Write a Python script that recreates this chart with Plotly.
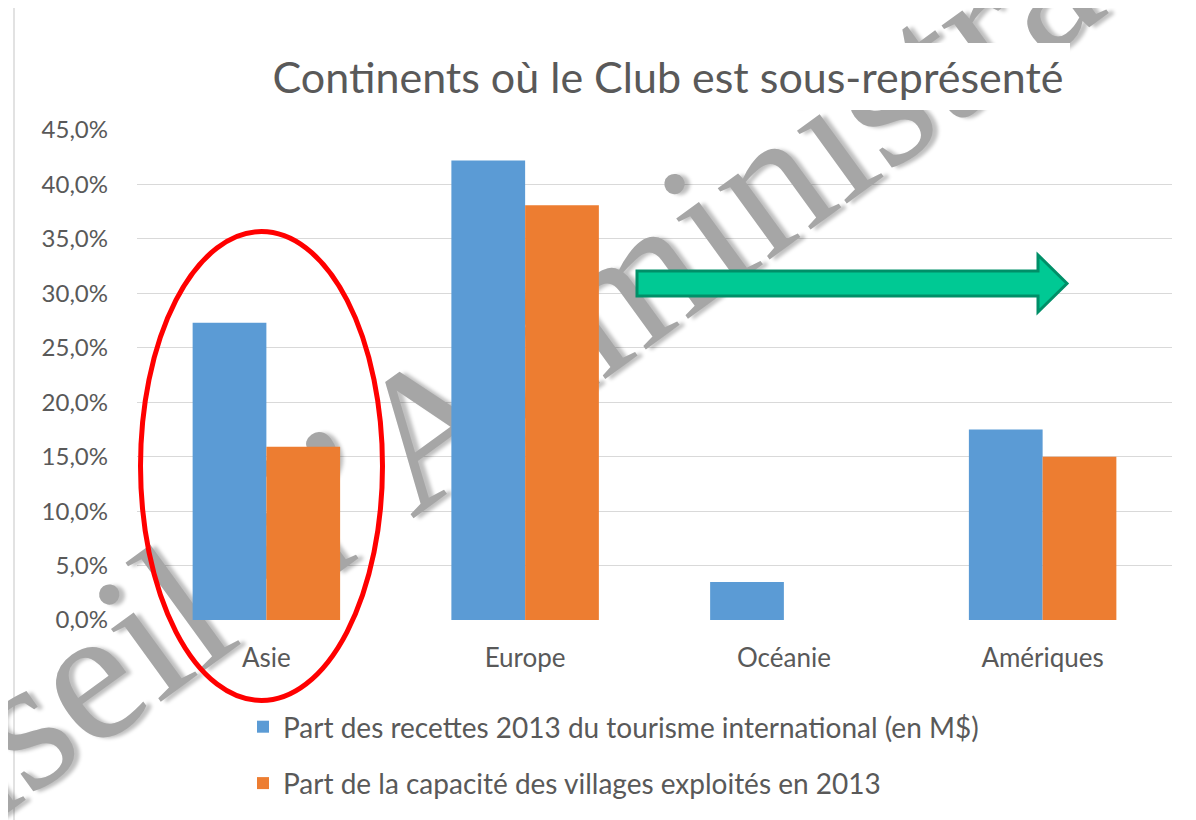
import plotly.graph_objects as go

# ---- data ----
categories = ["Asie", "Europe", "Océanie", "Amériques"]
recettes = [0.273, 0.422, 0.035, 0.175]
capacite = [0.159, 0.381, 0.0, 0.150]
series_names = [
    "Part des recettes 2013 du tourisme international (en M$)",
    "Part de la capacité des villages exploités en 2013",
]
title_text = "Continents où le Club est sous-représenté"
watermark_text = "Conseil d’Administration"

W, H = 1196, 820
OFF = 8  # page body margin
L, R, T, B = 137 - OFF, 32, 130 - OFF, 208
PX0, PY0 = 137, 620          # plot-area origin in page pixels
PW, PH = W - L - R, H - T - B


def px(x, y):
    """page pixel -> paper coordinates (for decorations only)"""
    return (x - PX0) / PW, (PY0 - y) / PH


BLUE = "#5B9BD5"
ORANGE = "#ED7D31"
GREY_TXT = "#595959"
FONT = "Lato"

fig = go.Figure()

# watermark (drawn first so the bars sit on top of it)
wm_font = dict(family="Liberation Serif", size=192, color="#A6A6A6",
               shadow="4px 4px 4px rgba(0,0,0,0.25)")
fig.add_trace(go.Bar(
    x=["Europe"], y=[0.0997], base=[0.19], width=0.2, offset=-0.108,
    marker=dict(color="rgba(0,0,0,0)", line=dict(width=0)),
    text=[watermark_text], textposition="inside", insidetextanchor="middle",
    textangle=-36, constraintext="none", cliponaxis=False,
    textfont=wm_font, insidetextfont=wm_font,
    showlegend=False, hoverinfo="skip",
))

bw = 0.285
fig.add_trace(go.Bar(
    x=categories, y=recettes, name=series_names[0], marker_color=BLUE,
    width=bw, offset=-bw, legendgroup="a", marker_line_width=0,
))
fig.add_trace(go.Bar(
    x=categories, y=capacite, name=series_names[1], marker_color=ORANGE,
    width=bw, offset=0, legendgroup="b", marker_line_width=0,
))

shapes = []
# outer chart border
x0, y0 = px(14, 6)
x1, y1 = px(1215, 840)
shapes.append(dict(type="rect", xref="paper", yref="paper", x0=x0, y0=y0, x1=x1, y1=y1,
                   line=dict(color="#D9D9D9", width=1.5), layer="below"))
# white title box
x0, y0 = px(262, 43)
x1, y1 = px(1070, 110)
shapes.append(dict(type="rect", xref="paper", yref="paper", x0=x0, y0=y0, x1=x1, y1=y1,
                   fillcolor="white", line=dict(width=0), layer="above"))
# red ellipse
x0, y0 = px(140.5, 231.5)
x1, y1 = px(382.5, 700.5)
shapes.append(dict(type="circle", xref="paper", yref="paper", x0=x0, y0=y0, x1=x1, y1=y1,
                   line=dict(color="#FF0000", width=5), layer="above"))
# green arrow
pts = [(637, 271), (1038, 271), (1038, 255), (1067, 283.5), (1038, 312), (1038, 296), (637, 296)]
path = "M " + " L ".join(f"{px(a, b)[0]:.5f},{px(a, b)[1]:.5f}" for a, b in pts) + " Z"
shapes.append(dict(type="path", xref="paper", yref="paper", path=path,
                   fillcolor="#00C994", line=dict(color="#008F68", width=3), layer="above"))

fig.update_layout(
    width=W, height=H,
    margin=dict(l=L, r=R, t=T, b=B, pad=0),
    paper_bgcolor="white", plot_bgcolor="white",
    barmode="overlay",
    separators=", ",
    font=dict(family=FONT, color=GREY_TXT, size=24),
    title=dict(text=title_text, x=(668 - PX0) / PW, xref="paper", xanchor="center",
               y=1 - (78 - OFF) / H, yref="container", yanchor="middle",
               font=dict(family=FONT, size=43, color=GREY_TXT)),
    xaxis=dict(type="category", categoryorder="array", categoryarray=categories,
               range=[-0.5, 3.5], showgrid=False, showline=False, zeroline=False,
               ticks="", tickfont=dict(family=FONT, size=26, color=GREY_TXT),
               ticklabelstandoff=20),
    yaxis=dict(range=[0, 0.45], dtick=0.05, tickformat=".1%", showgrid=True,
               gridcolor="#D9D9D9", gridwidth=1.3, zeroline=False, showline=False,
               ticks="", tickfont=dict(family=FONT, size=24, color=GREY_TXT),
               ticklabelstandoff=28),
    legend=dict(x=(243 - PX0) / PW, xanchor="left", y=(PY0 - 702) / PH, yanchor="top",
                orientation="v", traceorder="grouped", tracegroupgap=17,
                font=dict(family=FONT, size=28, color=GREY_TXT),
                bgcolor="rgba(0,0,0,0)", borderwidth=0),
    shapes=shapes,
    hovermode=False,
)

fig.write_html("out.html")
